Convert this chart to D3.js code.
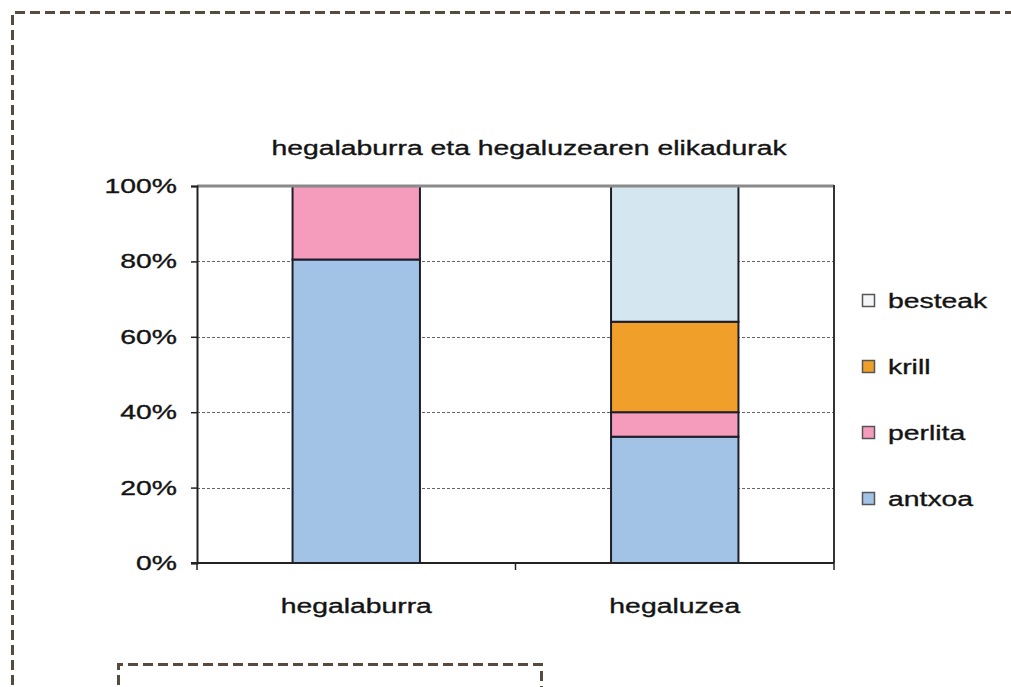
<!DOCTYPE html>
<html lang="en">
<head>
    <meta charset="UTF-8">
    <title>hegalaburra eta hegaluzearen elikadurak</title>
    <script src="https://d3js.org/d3.v7.min.js"></script>
    <style>
        body {
            margin: 0;
            background: #fff;
            font-family: 'Liberation Sans', Arial, sans-serif;
        }
        svg text {
            fill: #141414;
            stroke: #141414;
            stroke-width: 0.35px;
        }
    </style>
</head>
<body>
    <svg id="chart" width="1011" height="687"></svg>
    <script>
        // data
        const categories = ["hegalaburra", "hegaluzea"];
        const seriesNames = ["antxoa", "perlita", "krill", "besteak"];
        const antxoa = [80.5, 33.5];
        const perlita = [19.5, 6.5];
        const krill = [0, 24];
        const besteak = [0, 36];
        const yTicks = [0, 20, 40, 60, 80, 100];

        const colors = {
            antxoa: "#a3c3e6",
            perlita: "#f59bbb",
            krill: "#f0a02a",
            besteak: "#d4e7f1"
        };

        // the original picture is stretched sideways, so text is too
        const fontSize = 21;
        const stretch = 1.35;

        const svg = d3.select("#chart");

        function label(sel, px, py, anchor, str) {
            return sel.append("text")
                .attr("transform", `translate(${px},${py}) scale(${stretch},1)`)
                .attr("text-anchor", anchor)
                .attr("font-size", fontSize)
                .text(str);
        }

        // dashed frames round the picture
        svg.append("path")
            .attr("d", "M12.5,700 V12.5 H1020")
            .attr("fill", "none")
            .attr("stroke", "#574b40")
            .attr("stroke-width", 3)
            .attr("stroke-dasharray", "10,5");
        svg.append("path")
            .attr("d", "M118.5,700 V664.5 H541.5 V700")
            .attr("fill", "none")
            .attr("stroke", "#574b40")
            .attr("stroke-width", 3)
            .attr("stroke-dasharray", "10,5");

        const plot = { left: 197, right: 834, top: 186, bottom: 563 };

        const x = d3.scaleBand()
            .domain(categories)
            .range([plot.left, plot.right])
            .paddingInner(0.6)
            .paddingOuter(0.3);

        const y = d3.scaleLinear()
            .domain([0, 100])
            .range([plot.bottom, plot.top]);

        // gridlines
        svg.append("g")
            .selectAll("line")
            .data(yTicks.filter(d => d > 0 && d < 100))
            .join("line")
            .attr("x1", plot.left)
            .attr("x2", plot.right)
            .attr("y1", d => Math.round(y(d)) + 0.5)
            .attr("y2", d => Math.round(y(d)) + 0.5)
            .attr("stroke", "#666")
            .attr("stroke-width", 1)
            .attr("stroke-dasharray", "3,2");

        // stacked bars
        const table = categories.map((c, i) => ({
            cat: c,
            antxoa: antxoa[i],
            perlita: perlita[i],
            krill: krill[i],
            besteak: besteak[i]
        }));
        const stacked = d3.stack().keys(seriesNames)(table);

        svg.append("g")
            .selectAll("g")
            .data(stacked)
            .join("g")
            .attr("fill", d => colors[d.key])
            .selectAll("rect")
            .data(d => d.filter(s => s[1] - s[0] > 0))
            .join("rect")
            .attr("x", d => x(d.data.cat))
            .attr("y", d => y(d[1]))
            .attr("width", x.bandwidth())
            .attr("height", d => y(d[0]) - y(d[1]))
            .attr("stroke", "#1e1e2a")
            .attr("stroke-width", 2);

        // plot frame: grey top, dark right
        svg.append("line")
            .attr("x1", plot.left).attr("x2", plot.right)
            .attr("y1", plot.top).attr("y2", plot.top)
            .attr("stroke", "#8a8a8a").attr("stroke-width", 3);
        svg.append("line")
            .attr("x1", plot.right).attr("x2", plot.right)
            .attr("y1", plot.top - 1).attr("y2", plot.bottom)
            .attr("stroke", "#333").attr("stroke-width", 2);

        // y axis
        const yAxis = svg.append("g")
            .attr("transform", `translate(${plot.left},0)`)
            .call(d3.axisLeft(y).tickValues(yTicks).tickFormat("").tickSize(6));
        yAxis.select(".domain").attr("stroke", "#222").attr("stroke-width", 2);
        yAxis.selectAll(".tick line").attr("stroke", "#222").attr("stroke-width", 1.5);
        yTicks.forEach(t => label(svg, 177, y(t) + 7, "end", t + "%"));

        // x axis with ticks between categories
        const xAxis = svg.append("g")
            .attr("transform", `translate(0,${plot.bottom})`);
        xAxis.append("line")
            .attr("x1", plot.left - 6).attr("x2", plot.right)
            .attr("y1", 0).attr("y2", 0)
            .attr("stroke", "#222").attr("stroke-width", 2);
        const bounds = [plot.left, (plot.left + plot.right) / 2, plot.right];
        xAxis.selectAll("line.tk")
            .data(bounds)
            .join("line")
            .attr("class", "tk")
            .attr("x1", d => d).attr("x2", d => d)
            .attr("y1", 0).attr("y2", 7)
            .attr("stroke", "#222").attr("stroke-width", 1.5);
        categories.forEach(c => label(xAxis, x(c) + x.bandwidth() / 2, 50, "middle", c));

        // title
        label(svg, 529, 155, "middle", "hegalaburra eta hegaluzearen elikadurak");

        // legend, reversed order
        const legendKeys = seriesNames.slice().reverse();
        const legendY = d3.scalePoint()
            .domain(legendKeys)
            .range([301, 499]);
        const legend = svg.append("g")
            .selectAll("g")
            .data(legendKeys)
            .join("g")
            .attr("transform", d => `translate(862,${legendY(d)})`);
        legend.append("rect")
            .attr("x", 0.5).attr("y", -6.5)
            .attr("width", 12).attr("height", 12)
            .attr("fill", d => d === "besteak" ? "#f4f6f8" : colors[d])
            .attr("stroke", "#555")
            .attr("stroke-width", 1.5);
        legend.each(function (d) {
            label(d3.select(this), 26, 7, "start", d);
        });
    </script>
</body>
</html>
